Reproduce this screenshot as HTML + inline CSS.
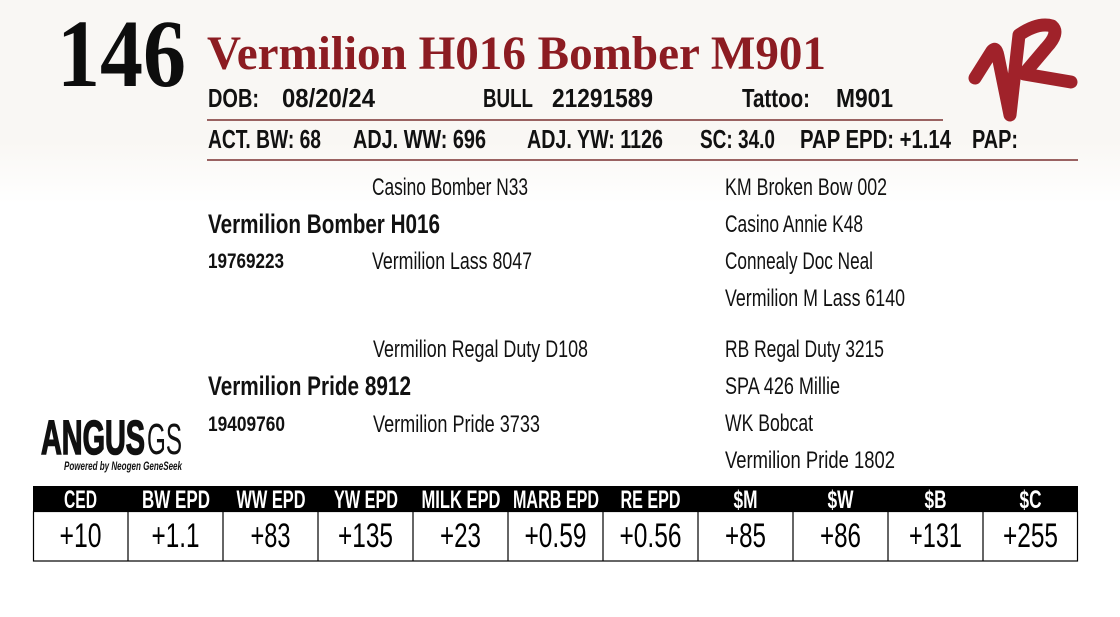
<!DOCTYPE html>
<html>
<head>
<meta charset="utf-8">
<style>
  html,body{margin:0;padding:0;background:#fff;}
  body{width:1120px;height:617px;overflow:hidden;}
  svg{display:block;}
  .b{font-family:"Liberation Sans",sans-serif;font-weight:bold;}
  .r{font-family:"Liberation Sans",sans-serif;font-weight:normal;}
  .s{font-family:"Liberation Serif",serif;font-weight:bold;}
</style>
</head>
<body>
<svg width="1120" height="617" viewBox="0 0 1120 617" xmlns="http://www.w3.org/2000/svg">
  <defs>
    <linearGradient id="bg" x1="0" y1="0" x2="0" y2="617" gradientUnits="userSpaceOnUse">
      <stop offset="0" stop-color="#f9f7f4"/>
      <stop offset="0.23" stop-color="#f9f7f4"/>
      <stop offset="0.33" stop-color="#ffffff"/>
      <stop offset="1" stop-color="#ffffff"/>
    </linearGradient>
  </defs>
  <rect x="0" y="0" width="1120" height="617" fill="url(#bg)"/>

  <!-- Lot number & title -->
  <text class="s" x="57" y="86" font-size="96" fill="#0d0d0d" textLength="129" lengthAdjust="spacingAndGlyphs">146</text>
  <text class="s" x="207" y="69" font-size="48" fill="#8c1c22" textLength="619" lengthAdjust="spacingAndGlyphs">Vermilion H016 Bomber M901</text>

  <!-- Row 1 -->
  <g class="b" font-size="26" fill="#111">
    <text x="208" y="107" textLength="51" lengthAdjust="spacingAndGlyphs">DOB:</text>
    <text x="282" y="107" textLength="93" lengthAdjust="spacingAndGlyphs">08/20/24</text>
    <text x="483" y="107" textLength="50" lengthAdjust="spacingAndGlyphs">BULL</text>
    <text x="552" y="107" textLength="101" lengthAdjust="spacingAndGlyphs">21291589</text>
    <text x="742" y="107" textLength="68" lengthAdjust="spacingAndGlyphs">Tattoo:</text>
    <text x="836" y="107" textLength="57" lengthAdjust="spacingAndGlyphs">M901</text>
  </g>
  <line x1="207" y1="120" x2="943" y2="120" stroke="#7a3030" stroke-width="1.5"/>

  <!-- Row 2 -->
  <g class="b" font-size="26" fill="#111">
    <text x="208" y="148" textLength="113" lengthAdjust="spacingAndGlyphs">ACT. BW: 68</text>
    <text x="353" y="148" textLength="133" lengthAdjust="spacingAndGlyphs">ADJ. WW: 696</text>
    <text x="527" y="148" textLength="136" lengthAdjust="spacingAndGlyphs">ADJ. YW: 1126</text>
    <text x="700" y="148" textLength="75" lengthAdjust="spacingAndGlyphs">SC: 34.0</text>
    <text x="800" y="148" textLength="151" lengthAdjust="spacingAndGlyphs">PAP EPD: +1.14</text>
    <text x="972" y="148" textLength="46" lengthAdjust="spacingAndGlyphs">PAP:</text>
  </g>
  <line x1="207" y1="160" x2="1078" y2="160" stroke="#7a3030" stroke-width="1.5"/>

  <!-- VR logo -->
  <path d="M975,78 L992,51 Q996,46 998,56 L1010,115 L1019,35 Q1038,22 1052,26 Q1060,33 1046,48 L1024,74 L1071,82"
        fill="none" stroke="#a0222a" stroke-width="13" stroke-linecap="round" stroke-linejoin="round"/>

  <!-- Pedigree -->
  <g class="r" font-size="24" fill="#111">
    <text x="372" y="195" textLength="156" lengthAdjust="spacingAndGlyphs">Casino Bomber N33</text>
    <text x="372" y="269" textLength="160" lengthAdjust="spacingAndGlyphs">Vermilion Lass 8047</text>
    <text x="725" y="195" textLength="162" lengthAdjust="spacingAndGlyphs">KM Broken Bow 002</text>
    <text x="725" y="232" textLength="138" lengthAdjust="spacingAndGlyphs">Casino Annie K48</text>
    <text x="725" y="269" textLength="148" lengthAdjust="spacingAndGlyphs">Connealy Doc Neal</text>
    <text x="725" y="306" textLength="180" lengthAdjust="spacingAndGlyphs">Vermilion M Lass 6140</text>

    <text x="373" y="357" textLength="215" lengthAdjust="spacingAndGlyphs">Vermilion Regal Duty D108</text>
    <text x="373" y="432" textLength="167" lengthAdjust="spacingAndGlyphs">Vermilion Pride 3733</text>
    <text x="725" y="357" textLength="159" lengthAdjust="spacingAndGlyphs">RB Regal Duty 3215</text>
    <text x="725" y="394" textLength="115" lengthAdjust="spacingAndGlyphs">SPA 426 Millie</text>
    <text x="725" y="431" textLength="88" lengthAdjust="spacingAndGlyphs">WK Bobcat</text>
    <text x="725" y="468" textLength="170" lengthAdjust="spacingAndGlyphs">Vermilion Pride 1802</text>
  </g>
  <g class="b" fill="#111">
    <text x="208" y="233" font-size="27" textLength="232" lengthAdjust="spacingAndGlyphs">Vermilion Bomber H016</text>
    <text x="208" y="268" font-size="21" textLength="76" lengthAdjust="spacingAndGlyphs">19769223</text>
    <text x="208" y="395" font-size="27" textLength="203" lengthAdjust="spacingAndGlyphs">Vermilion Pride 8912</text>
    <text x="208" y="431" font-size="21" textLength="77" lengthAdjust="spacingAndGlyphs">19409760</text>
  </g>

  <!-- ANGUS GS logo -->
  <text class="b" x="41" y="454" font-size="48" fill="#111" stroke="#111" stroke-width="1.6" textLength="104" lengthAdjust="spacingAndGlyphs">ANGUS</text>
  <text class="r" x="147" y="454" font-size="44" fill="#111" textLength="35" lengthAdjust="spacingAndGlyphs">GS</text>
  <text class="b" x="64" y="470" font-size="12" font-style="italic" fill="#111" textLength="118" lengthAdjust="spacingAndGlyphs">Powered by Neogen GeneSeek</text>

  <!-- EPD table -->
  <rect x="33" y="486" width="1045" height="26" fill="#000"/>
  <rect x="33.5" y="511.5" width="1044" height="49.5" fill="#fff" stroke="#000" stroke-width="1.2"/>
  <g stroke="#000" stroke-width="1.2">
    <line x1="128" y1="512" x2="128" y2="561"/>
    <line x1="223" y1="512" x2="223" y2="561"/>
    <line x1="318" y1="512" x2="318" y2="561"/>
    <line x1="413" y1="512" x2="413" y2="561"/>
    <line x1="508" y1="512" x2="508" y2="561"/>
    <line x1="603" y1="512" x2="603" y2="561"/>
    <line x1="698" y1="512" x2="698" y2="561"/>
    <line x1="793" y1="512" x2="793" y2="561"/>
    <line x1="888" y1="512" x2="888" y2="561"/>
    <line x1="983" y1="512" x2="983" y2="561"/>
  </g>
  <g class="b" font-size="25" fill="#fff" text-anchor="middle">
    <text x="80.5" y="508" textLength="33" lengthAdjust="spacingAndGlyphs">CED</text>
    <text x="176" y="508" textLength="68" lengthAdjust="spacingAndGlyphs">BW EPD</text>
    <text x="271" y="508" textLength="69" lengthAdjust="spacingAndGlyphs">WW EPD</text>
    <text x="366" y="508" textLength="64" lengthAdjust="spacingAndGlyphs">YW EPD</text>
    <text x="461" y="508" textLength="79" lengthAdjust="spacingAndGlyphs">MILK EPD</text>
    <text x="556" y="508" textLength="86" lengthAdjust="spacingAndGlyphs">MARB EPD</text>
    <text x="650.5" y="508" textLength="60" lengthAdjust="spacingAndGlyphs">RE EPD</text>
    <text x="745.5" y="508" textLength="24" lengthAdjust="spacingAndGlyphs">$M</text>
    <text x="840.5" y="508" textLength="26" lengthAdjust="spacingAndGlyphs">$W</text>
    <text x="935.5" y="508" textLength="22" lengthAdjust="spacingAndGlyphs">$B</text>
    <text x="1030.5" y="508" textLength="22" lengthAdjust="spacingAndGlyphs">$C</text>
  </g>
  <g class="r" font-size="34" fill="#000" text-anchor="middle">
    <text x="80.5" y="547" textLength="42" lengthAdjust="spacingAndGlyphs">+10</text>
    <text x="175.5" y="547" textLength="48" lengthAdjust="spacingAndGlyphs">+1.1</text>
    <text x="270.5" y="547" textLength="40" lengthAdjust="spacingAndGlyphs">+83</text>
    <text x="365.5" y="547" textLength="55" lengthAdjust="spacingAndGlyphs">+135</text>
    <text x="460.5" y="547" textLength="41" lengthAdjust="spacingAndGlyphs">+23</text>
    <text x="555.5" y="547" textLength="62" lengthAdjust="spacingAndGlyphs">+0.59</text>
    <text x="650.5" y="547" textLength="62" lengthAdjust="spacingAndGlyphs">+0.56</text>
    <text x="745.5" y="547" textLength="41" lengthAdjust="spacingAndGlyphs">+85</text>
    <text x="840.5" y="547" textLength="41" lengthAdjust="spacingAndGlyphs">+86</text>
    <text x="935.5" y="547" textLength="53" lengthAdjust="spacingAndGlyphs">+131</text>
    <text x="1030.5" y="547" textLength="55" lengthAdjust="spacingAndGlyphs">+255</text>
  </g>
</svg>
</body>
</html>
